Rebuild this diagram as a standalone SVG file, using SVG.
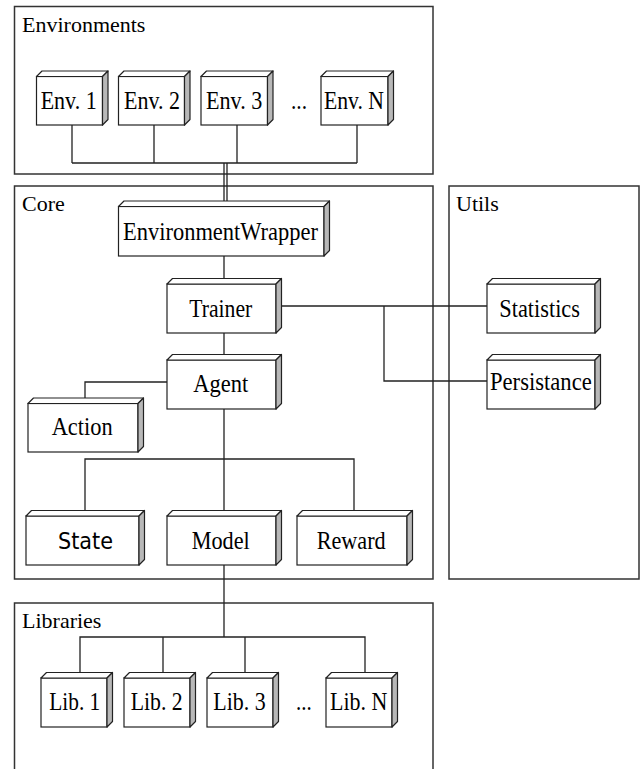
<svg xmlns="http://www.w3.org/2000/svg" width="642" height="769" viewBox="0 0 642 769">
<style>
.cont{fill:#fff;stroke:#333;stroke-width:1.5}
.front{fill:#fff;stroke:#222;stroke-width:1.2}
.top{fill:#fff;stroke:#222;stroke-width:1.2;stroke-linejoin:round}
.side{fill:#b8b8b8;stroke:#222;stroke-width:1.2;stroke-linejoin:round}
.title{font-family:"Liberation Serif",serif;font-size:22px;fill:#000}
.lbl{font-family:"Liberation Serif",serif;font-size:25px;fill:#000}
.sans{font-family:"DejaVu Sans Condensed","DejaVu Sans",sans-serif;font-size:23px;fill:#000}
.conn{fill:none;stroke:#222;stroke-width:1.3}
</style>
<rect width="642" height="769" fill="#fff"/>
<g id="containers">
<g id="environments"><rect class="cont" x="14.5" y="6.5" width="418.5" height="167.5"/><text class="title" x="22" y="32">Environments</text></g>
<g id="core"><rect class="cont" x="14.5" y="186" width="418.5" height="393"/><text class="title" x="22" y="211">Core</text></g>
<g id="utils"><rect class="cont" x="449" y="186" width="190" height="393"/><text class="title" x="456" y="211">Utils</text></g>
<g id="libraries"><rect class="cont" x="14.5" y="603" width="418.5" height="190"/><text class="title" x="22" y="628">Libraries</text></g>
</g>
<g id="connectors">
<path class="conn" d="M72 125V163M154 125V163M237 125V163M357 125V163M72 163H357"/>
<path class="conn" d="M224 163V201M227 163V201"/>
<path class="conn" d="M224 256V278.5M224 333V354.5"/>
<path class="conn" d="M167 382H85V398"/>
<path class="conn" d="M224 409V510.5M85 510.5V459H354V510.5"/>
<path class="conn" d="M224 565V637M80 672.5V637H365V672.5M163 637V672.5M245 637V672.5"/>
<path class="conn" d="M281.5 306H487M384 306V381H487"/>
</g>
<g id="env1"><rect class="front" x="36.5" y="76.5" width="66" height="48.5"/><path class="top" d="M36.5 76.5L42 71H108L102.5 76.5Z"/><path class="side" d="M102.5 76.5L108 71V119.5L102.5 125Z"/><text class="lbl" x="40.7" y="109.3" textLength="56" lengthAdjust="spacingAndGlyphs">Env. 1</text></g>
<g id="env2"><rect class="front" x="118.5" y="76.5" width="66" height="48.5"/><path class="top" d="M118.5 76.5L124 71H190L184.5 76.5Z"/><path class="side" d="M184.5 76.5L190 71V119.5L184.5 125Z"/><text class="lbl" x="124" y="109.3" textLength="56" lengthAdjust="spacingAndGlyphs">Env. 2</text></g>
<g id="env3"><rect class="front" x="201" y="76.5" width="66.5" height="48.5"/><path class="top" d="M201 76.5L206.5 71H273L267.5 76.5Z"/><path class="side" d="M267.5 76.5L273 71V119.5L267.5 125Z"/><text class="lbl" x="206" y="109.3" textLength="56.3" lengthAdjust="spacingAndGlyphs">Env. 3</text></g>
<text class="lbl" x="291" y="109.3" textLength="16" lengthAdjust="spacingAndGlyphs">...</text>
<g id="envN"><rect class="front" x="321" y="76.5" width="67" height="48.5"/><path class="top" d="M321 76.5L326.5 71H393.5L388 76.5Z"/><path class="side" d="M388 76.5L393.5 71V119.5L388 125Z"/><text class="lbl" x="324" y="109.3" textLength="60" lengthAdjust="spacingAndGlyphs">Env. N</text></g>
<g id="envwrapper"><rect class="front" x="118.5" y="206.5" width="205.5" height="49.5"/><path class="top" d="M118.5 206.5L124 201H329.5L324 206.5Z"/><path class="side" d="M324 206.5L329.5 201V250.5L324 256Z"/><text class="lbl" x="123" y="240" textLength="195" lengthAdjust="spacingAndGlyphs">EnvironmentWrapper</text></g>
<g id="trainer"><rect class="front" x="167" y="284" width="109" height="49"/><path class="top" d="M167 284L172.5 278.5H281.5L276 284Z"/><path class="side" d="M276 284L281.5 278.5V327.5L276 333Z"/><text class="lbl" x="189.3" y="316.7" textLength="63" lengthAdjust="spacingAndGlyphs">Trainer</text></g>
<g id="agent"><rect class="front" x="167" y="360" width="109" height="49"/><path class="top" d="M167 360L172.5 354.5H281.5L276 360Z"/><path class="side" d="M276 360L281.5 354.5V403.5L276 409Z"/><text class="lbl" x="193.3" y="391.7" textLength="55" lengthAdjust="spacingAndGlyphs">Agent</text></g>
<g id="statistics"><rect class="front" x="487" y="284" width="108" height="49"/><path class="top" d="M487 284L492.5 278.5H600.5L595 284Z"/><path class="side" d="M595 284L600.5 278.5V327.5L595 333Z"/><text class="lbl" x="499.3" y="317.3" textLength="80.7" lengthAdjust="spacingAndGlyphs">Statistics</text></g>
<g id="persistance"><rect class="front" x="487" y="360" width="108" height="49"/><path class="top" d="M487 360L492.5 354.5H600.5L595 360Z"/><path class="side" d="M595 360L600.5 354.5V403.5L595 409Z"/><text class="lbl" x="490" y="390" textLength="101.7" lengthAdjust="spacingAndGlyphs">Persistance</text></g>
<g id="action"><rect class="front" x="28" y="403.5" width="110" height="48.5"/><path class="top" d="M28 403.5L33.5 398H143.5L138 403.5Z"/><path class="side" d="M138 403.5L143.5 398V446.5L138 452Z"/><text class="lbl" x="51.7" y="435" textLength="61" lengthAdjust="spacingAndGlyphs">Action</text></g>
<g id="state"><rect class="front" x="26" y="516" width="113" height="49"/><path class="top" d="M26 516L31.5 510.5H144.5L139 516Z"/><path class="side" d="M139 516L144.5 510.5V559.5L139 565Z"/><text class="sans" x="58" y="549" textLength="55" lengthAdjust="spacingAndGlyphs">State</text></g>
<g id="model"><rect class="front" x="167" y="516" width="109" height="49"/><path class="top" d="M167 516L172.5 510.5H281.5L276 516Z"/><path class="side" d="M276 516L281.5 510.5V559.5L276 565Z"/><text class="lbl" x="191.7" y="549" textLength="58" lengthAdjust="spacingAndGlyphs">Model</text></g>
<g id="reward"><rect class="front" x="297" y="516" width="110" height="49"/><path class="top" d="M297 516L302.5 510.5H412.5L407 516Z"/><path class="side" d="M407 516L412.5 510.5V559.5L407 565Z"/><text class="lbl" x="316.7" y="549" textLength="69" lengthAdjust="spacingAndGlyphs">Reward</text></g>
<g id="lib1"><rect class="front" x="41" y="678" width="66" height="49"/><path class="top" d="M41 678L46.5 672.5H112.5L107 678Z"/><path class="side" d="M107 678L112.5 672.5V721.5L107 727Z"/><text class="lbl" x="49.3" y="710" textLength="51" lengthAdjust="spacingAndGlyphs">Lib. 1</text></g>
<g id="lib2"><rect class="front" x="124" y="678" width="66" height="49"/><path class="top" d="M124 678L129.5 672.5H195.5L190 678Z"/><path class="side" d="M190 678L195.5 672.5V721.5L190 727Z"/><text class="lbl" x="130.7" y="710" textLength="52" lengthAdjust="spacingAndGlyphs">Lib. 2</text></g>
<g id="lib3"><rect class="front" x="207" y="678" width="66" height="49"/><path class="top" d="M207 678L212.5 672.5H278.5L273 678Z"/><path class="side" d="M273 678L278.5 672.5V721.5L273 727Z"/><text class="lbl" x="213.3" y="710" textLength="52.4" lengthAdjust="spacingAndGlyphs">Lib. 3</text></g>
<text class="lbl" x="296" y="710" textLength="15.7" lengthAdjust="spacingAndGlyphs">...</text>
<g id="libN"><rect class="front" x="326" y="678" width="66" height="49"/><path class="top" d="M326 678L331.5 672.5H397.5L392 678Z"/><path class="side" d="M392 678L397.5 672.5V721.5L392 727Z"/><text class="lbl" x="330" y="710" textLength="57.3" lengthAdjust="spacingAndGlyphs">Lib. N</text></g>
</svg>
